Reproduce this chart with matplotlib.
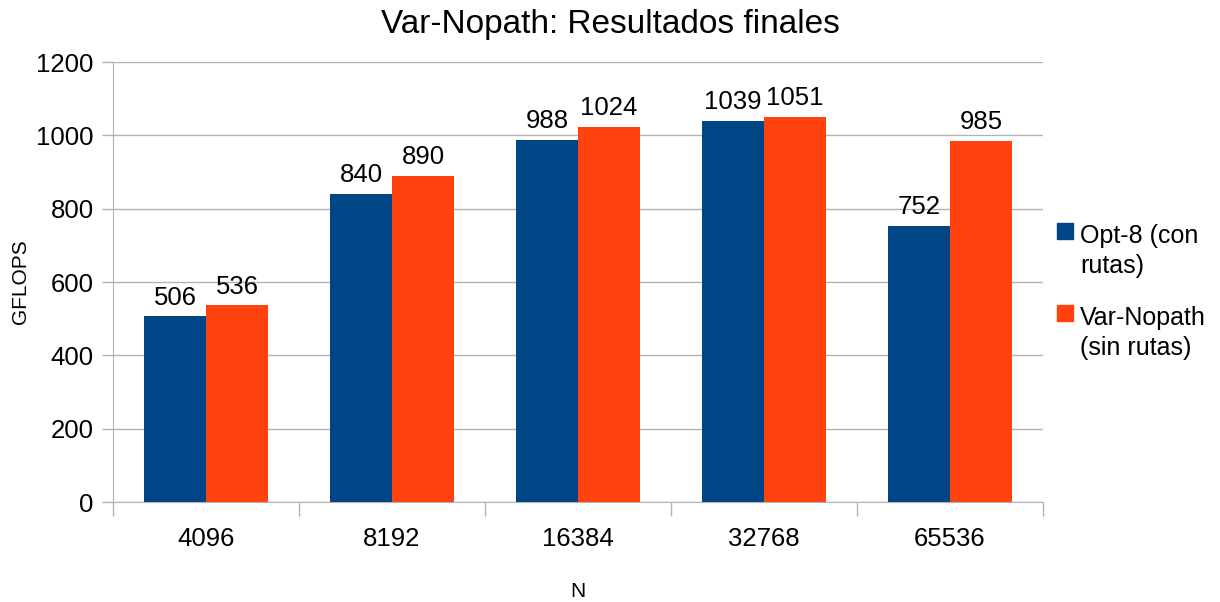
import numpy as np
from matplotlib import pyplot as plt
from matplotlib.patches import Rectangle

plt.rcParams['font.family'] = ['Liberation Sans', 'DejaVu Sans']

categories = ["4096", "8192", "16384", "32768", "65536"]
opt8 = [506, 840, 988, 1039, 752]
varnopath = [536, 890, 1024, 1051, 985]
series_names = ["Opt-8 (con\nrutas)", "Var-Nopath\n(sin rutas)"]

blue = "#004586"
orange = "#ff420e"

W, H = 1220, 602
fig = plt.figure(figsize=(W / 100, H / 100), dpi=100)
ax = fig.add_axes([113 / W, 100 / H, 930 / W, 440 / H])

x = np.arange(len(categories))
w = 1 / 3
b1 = ax.bar(x - w / 2, opt8, width=w, color=blue, zorder=3)
b2 = ax.bar(x + w / 2, varnopath, width=w, color=orange, zorder=3)
ax.bar_label(b1, padding=5, fontsize=18.5)
ax.bar_label(b2, padding=5, fontsize=18.5)

ax.set_xlim(-0.5, len(categories) - 0.5)
ax.set_ylim(0, 1200)
ax.set_yticks(range(0, 1201, 200))
ax.yaxis.grid(True, color="#b3b3b3", linewidth=1, zorder=0)

# category labels in the middle, tick marks between the groups
ax.set_xticks(x)
ax.set_xticklabels(categories)
ax.set_xticks(np.arange(-0.5, len(categories)), minor=True)
ax.tick_params(axis="x", which="major", length=0, pad=18, labelsize=18.5)
ax.tick_params(axis="x", which="minor", length=10, color="#b3b3b3", width=1)
ax.tick_params(axis="y", length=8, color="#b3b3b3", width=1, labelsize=18.5, pad=6)

for s in ["top", "right"]:
    ax.spines[s].set_visible(False)
for s in ["left", "bottom"]:
    ax.spines[s].set_color("#b3b3b3")

ax.set_xlabel("N", fontsize=15, labelpad=22)
ax.set_ylabel("GFLOPS", fontsize=15, labelpad=4)
fig.suptitle("Var-Nopath: Resultados finales", fontsize=24, y=0.985)

# legend drawn by hand so the marker sits next to the first text line
for i, (name, col) in enumerate(zip(series_names, [blue, orange])):
    top = 223 + i * 82
    fig.patches.append(Rectangle((1057 / W, 1 - (top + 16) / H), 16 / W, 16 / H,
                                 transform=fig.transFigure, color=col))
    for j, line in enumerate(name.split("\n")):
        fig.text(1080 / W, 1 - (top + 20 + j * 30) / H, line,
                 fontsize=18, va="baseline", ha="left")

fig.savefig("out.png", dpi=100)
